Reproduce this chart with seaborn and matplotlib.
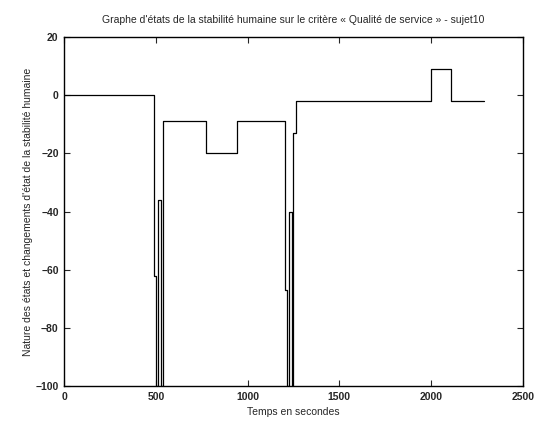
import pandas as pd
import matplotlib
matplotlib.use('Agg')
import matplotlib.pyplot as plt
import seaborn as sns

# step data (time in seconds, state value)
times = [0, 490, 501, 510, 528, 537, 773, 940, 1204, 1213, 1224, 1240, 1249, 1264, 1997, 2108, 2290]
values = [0, -62, -100, -36, -100, -9, -20, -9, -67, -100, -40, -100, -13, -2, 9, -2, -2]

x_ticks = [0, 500, 1000, 1500, 2000, 2500]
y_ticks = [20, 0, -20, -40, -60, -80, -100]

title = "Graphe d'états de la stabilité humaine sur le critère « Qualité de service » - sujet10"
x_label = 'Temps en secondes'
y_label = "Nature des états et changements d'état de la stabilité humaine"

sns.set_style('ticks')
plt.rcParams['font.family'] = ['Liberation Sans', 'DejaVu Sans']
plt.rcParams['xtick.direction'] = 'in'
plt.rcParams['ytick.direction'] = 'in'

data = pd.DataFrame({'Temps': times, 'Etat': values})

fig = plt.figure(figsize=(5.39, 4.30), dpi=100)
ax = fig.add_axes([0.119, 0.102, 0.851, 0.812])
sns.lineplot(data=data, x='Temps', y='Etat', ax=ax, color='black',
             linewidth=0.9, drawstyle='steps-post', estimator=None)

ax.set_xlim(0, 2500)
ax.set_ylim(-100, 20)
ax.set_xticks(x_ticks)
ax.set_yticks(y_ticks)
ax.tick_params(labelsize=7.5, length=4, width=0.8, top=True, right=True, pad=4)
for lab in ax.get_xticklabels() + ax.get_yticklabels():
    lab.set_fontweight('bold')
for spine in ax.spines.values():
    spine.set_linewidth(1.0)
    spine.set_color('black')

ax.set_title(title, fontsize=7.5, pad=10)
ax.set_xlabel(x_label, fontsize=7.5, labelpad=4)
ax.set_ylabel(y_label, fontsize=7.5, labelpad=2)

fig.savefig('out.png', dpi=100)
